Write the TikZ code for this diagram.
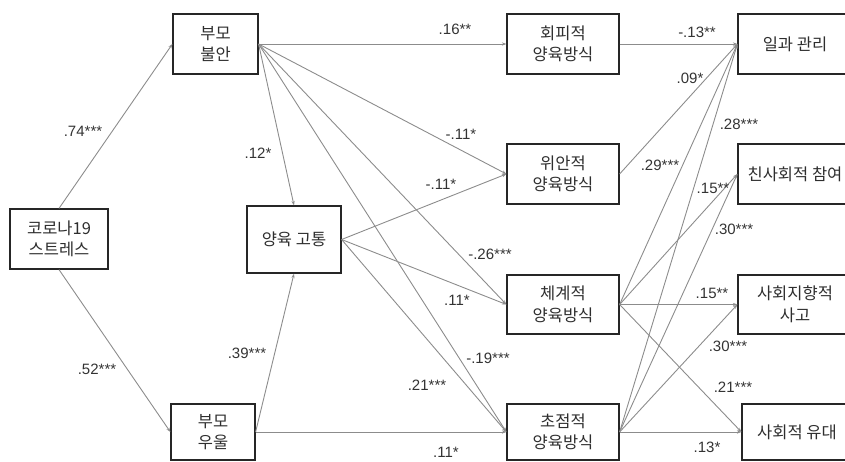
\documentclass[tikz,border=0pt]{standalone}
\usepackage{fontspec}
\setmainfont{Liberation Sans}
\newfontfamily\kr{Noto Sans CJK KR}
\usetikzlibrary{arrows.meta}
\begin{document}
\begin{tikzpicture}[x=1pt,y=-1pt,
  box/.style={draw=black!85,line width=1.2pt,font=\kr\fontsize{16.5}{21.5}\selectfont,
    align=center,inner sep=0pt,text=black!82},
  conn/.style={draw=black!45,line width=0.9pt,-{Stealth[length=4.5pt,width=3.2pt]}},
  lab/.style={font=\fontsize{15}{16}\selectfont,text=black!80,inner sep=0pt}]
\useasboundingbox (0,0) rectangle (845,461);
% boxes
\node[box,minimum width=98pt,minimum height=60pt] (stress) at (59,239) {코로나19\\스트레스};
\node[box,minimum width=85pt,minimum height=60pt] (anx) at (215.5,44) {부모\\불안};
\node[box,minimum width=94pt,minimum height=67pt] (distress) at (294,239.5) {양육 고통};
\node[box,minimum width=84pt,minimum height=56pt] (dep) at (213,432) {부모\\우울};
\node[box,minimum width=112pt,minimum height=60pt] (avoid) at (563,44) {회피적\\양육방식};
\node[box,minimum width=112pt,minimum height=60pt] (comfort) at (563,174) {위안적\\양육방식};
\node[box,minimum width=112pt,minimum height=59pt] (system) at (563,304.5) {체계적\\양육방식};
\node[box,minimum width=112pt,minimum height=56pt] (focus) at (563,432) {초점적\\양육방식};
\node[box,minimum width=114pt,minimum height=60pt] (work) at (795,44) {일과 관리};
\node[box,minimum width=114pt,minimum height=60pt] (prosoc) at (795,174) {친사회적 참여};
\node[box,minimum width=114pt,minimum height=59pt] (socthink) at (795,304.5) {사회지향적\\사고};
\node[box,minimum width=110pt,minimum height=56pt] (bond) at (797,432) {사회적 유대};
% connectors
\draw[conn] (stress.north) -- (anx.west);
\draw[conn] (stress.south) -- (dep.west);
\draw[conn] (anx.east) -- (distress.north);
\draw[conn] (dep.east) -- (distress.south);
\draw[conn] (anx.east) -- (avoid.west);
\draw[conn] (anx.east) -- (comfort.west);
\draw[conn] (anx.east) -- (system.west);
\draw[conn] (anx.east) -- (focus.west);
\draw[conn] (distress.east) -- (comfort.west);
\draw[conn] (distress.east) -- (system.west);
\draw[conn] (distress.east) -- (focus.west);
\draw[conn] (dep.east) -- (focus.west);
\draw[conn] (avoid.east) -- (work.west);
\draw[conn] (comfort.east) -- (work.west);
\draw[conn] (system.east) -- (work.west);
\draw[conn] (system.east) -- (prosoc.west);
\draw[conn] (system.east) -- (socthink.west);
\draw[conn] (system.east) -- (bond.west);
\draw[conn] (focus.east) -- (work.west);
\draw[conn] (focus.east) -- (prosoc.west);
\draw[conn] (focus.east) -- (socthink.west);
\draw[conn] (focus.east) -- (bond.west);
% labels
\node[lab] (l1) at (83,131) {.74***};
\node[lab] (l2) at (97,369) {.52***};
\node[lab] (l3) at (258,153) {.12*};
\node[lab] (l4) at (247,353) {.39***};
\node[lab] (l5) at (455,29) {.16**};
\node[lab] (l6) at (461,134) {-.11*};
\node[lab] (l7) at (441,184) {-.11*};
\node[lab] (l8) at (490,254) {-.26***};
\node[lab] (l9) at (457,300) {.11*};
\node[lab] (l10) at (488,358) {-.19***};
\node[lab] (l11) at (427,385) {.21***};
\node[lab] (l12) at (446,452) {.11*};
\node[lab] (l13) at (697,32) {-.13**};
\node[lab] (l14) at (690,78) {.09*};
\node[lab] (l15) at (739,124) {.28***};
\node[lab] (l16) at (660,165) {.29***};
\node[lab] (l17) at (713,188) {.15**};
\node[lab] (l18) at (734,229) {.30***};
\node[lab] (l19) at (712,293) {.15**};
\node[lab] (l20) at (728,346) {.30***};
\node[lab] (l21) at (733,387) {.21***};
\node[lab] (l22) at (707,447) {.13*};
\end{tikzpicture}
\end{document}
